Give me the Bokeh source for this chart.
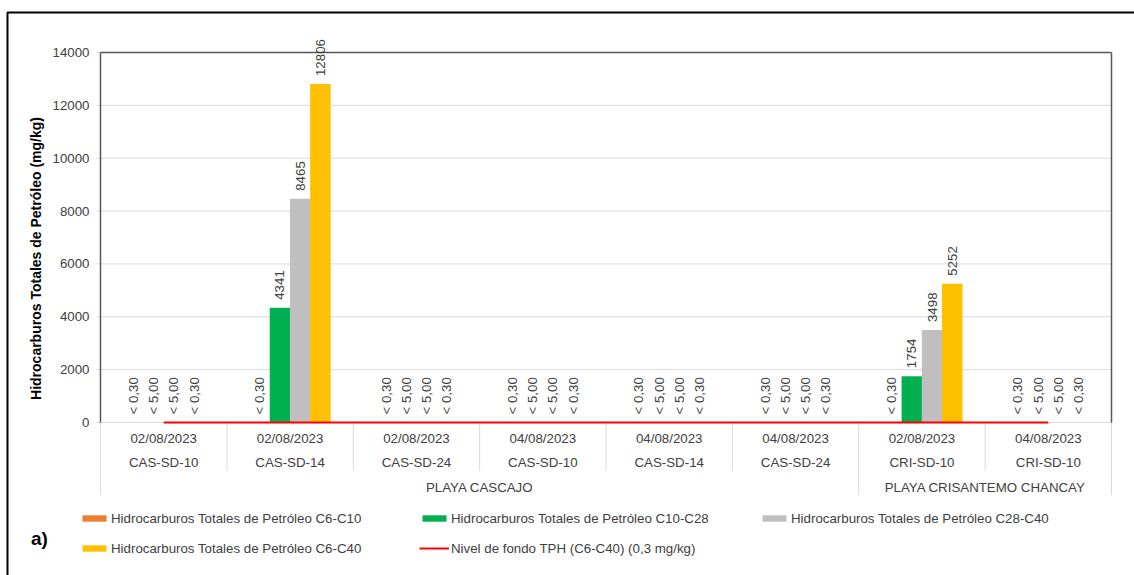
import math
from bokeh.plotting import figure
from bokeh.models import (ColumnDataSource, Range1d, Label, Legend, LegendItem, BoxAnnotation)
from bokeh.transform import dodge
from bokeh.core.properties import value
from bokeh.embed import file_html
from bokeh.resources import INLINE

# ---------------- data ----------------
beaches = ["PLAYA CASCAJO", "PLAYA CASCAJO", "PLAYA CASCAJO", "PLAYA CASCAJO",
           "PLAYA CASCAJO", "PLAYA CASCAJO", "PLAYA CRISANTEMO CHANCAY", "PLAYA CRISANTEMO CHANCAY"]
sites = ["CAS-SD-10", "CAS-SD-14", "CAS-SD-24", "CAS-SD-10", "CAS-SD-14", "CAS-SD-24",
         "CRI-SD-10", "CRI-SD-10"]
dates = ["02/08/2023", "02/08/2023", "02/08/2023", "04/08/2023", "04/08/2023", "04/08/2023",
         "02/08/2023", "04/08/2023"]

tph_c6_c10 = [0, 0, 0, 0, 0, 0, 0, 0]
tph_c10_c28 = [0, 4341, 0, 0, 0, 0, 1754, 0]
tph_c28_c40 = [0, 8465, 0, 0, 0, 0, 3498, 0]
tph_c6_c40 = [0, 12806, 0, 0, 0, 0, 5252, 0]

lbl_c6_c10 = ["< 0,30", "< 0,30", "< 0,30", "< 0,30", "< 0,30", "< 0,30", "< 0,30", "< 0,30"]
lbl_c10_c28 = ["< 5,00", "4341", "< 5,00", "< 5,00", "< 5,00", "< 5,00", "1754", "< 5,00"]
lbl_c28_c40 = ["< 5,00", "8465", "< 5,00", "< 5,00", "< 5,00", "< 5,00", "3498", "< 5,00"]
lbl_c6_c40 = ["< 0,30", "12806", "< 0,30", "< 0,30", "< 0,30", "< 0,30", "5252", "< 0,30"]

background_level = 0.3  # mg/kg
y_ticks = [0, 2000, 4000, 6000, 8000, 10000, 12000, 14000]
y_tick_labels = ["0", "2000", "4000", "6000", "8000", "10000", "12000", "14000"]

series_names = ["Hidrocarburos Totales de Petróleo C6-C10",
                "Hidrocarburos Totales de Petróleo C10-C28",
                "Hidrocarburos Totales de Petróleo C28-C40",
                "Hidrocarburos Totales de Petróleo C6-C40"]
series_colors = ["#ED7D31", "#00B050", "#BFBFBF", "#FFC000"]
line_name = "Nivel de fondo TPH (C6-C40) (0,3 mg/kg)"
y_title = "Hidrocarburos Totales de Petróleo (mg/kg)"
panel_tag = "a)"

# ---------------- layout constants (pixels) ----------------
W, H = 1134, 575
FONT = "Liberation Sans"
FS = "13.3px"
TXT = "#404040"
GRID = "#D9D9D9"
FRAME = "#595959"
X0_PX, GW_PX = 100, 126.375      # left edge of plot area, width of one group
Y0_PX, YTOP_PX = 422, 52         # pixel rows of 0 and of the top tick
Y_MAX = y_ticks[-1]
U = Y_MAX / (Y0_PX - YTOP_PX)    # data units per pixel
N = len(sites)

x_range = Range1d(-X0_PX / GW_PX, (W - X0_PX) / GW_PX)
y_range = Range1d(-(H - Y0_PX) * U, Y_MAX + YTOP_PX * U)

p = figure(width=W, height=H, x_range=x_range, y_range=y_range,
           x_axis_location=None, y_axis_location=None, toolbar_location=None,
           output_backend="svg", min_border=0, min_border_left=0, min_border_right=0,
           min_border_top=0, min_border_bottom=0)
p.outline_line_color = None
p.xgrid.visible = False
p.ygrid.visible = False
p.background_fill_color = "white"
p.border_fill_color = "white"

# gridlines (extending 4px left as tick marks)
p.segment(x0=[-4 / GW_PX] * len(y_ticks), x1=[N] * len(y_ticks), y0=y_ticks, y1=y_ticks,
          line_color=GRID, line_width=1)
# y tick labels
p.text(x=[0] * len(y_ticks), y=y_ticks, text=y_tick_labels, x_offset=-11,
       text_align="right", text_baseline="middle", text_font=value(FONT),
       text_font_size=FS, text_color=TXT)

# category separators
bounds = list(range(N + 1))
full = [i for i in bounds if i == 0 or i == N or beaches[i] != beaches[i - 1]]
short = [i for i in bounds if i not in full]
p.segment(x0=short, x1=short, y0=[0] * len(short), y1=[-48 * U] * len(short),
          line_color=GRID, line_width=1)
p.segment(x0=full, x1=full, y0=[0] * len(full), y1=[-72 * U] * len(full),
          line_color=GRID, line_width=1)

# plot-area frame lines (dark) on left, top, right
p.segment(x0=[0, 0, N], x1=[0, N, N], y0=[0, Y_MAX, 0], y1=[Y_MAX, Y_MAX, Y_MAX],
          line_color=FRAME, line_width=1.5)

xs = [i + 0.5 for i in range(N)]
src = ColumnDataSource(dict(x=xs, c6_c10=tph_c6_c10, c10_c28=tph_c10_c28,
                            c28_c40=tph_c28_c40, c6_c40=tph_c6_c40,
                            l_c6_c10=lbl_c6_c10, l_c10_c28=lbl_c10_c28,
                            l_c28_c40=lbl_c28_c40, l_c6_c40=lbl_c6_c40))

keys = ["c6_c10", "c10_c28", "c28_c40", "c6_c40"]
offsets = [-0.24, -0.08, 0.08, 0.24]
bar_renderers = []
for key, color, off in zip(keys, series_colors, offsets):
    r = p.vbar(x=dodge("x", off), top=key, width=0.162, source=src,
               fill_color=color, line_color=None)
    bar_renderers.append(r)

red = p.line(x=xs, y=[background_level] * N, line_color="#FF0000", line_width=2)

for key, off in zip(keys, offsets):
    p.text(x=dodge("x", off), y=key, text="l_" + key, source=src,
           angle=math.pi / 2, text_align="left", text_baseline="middle", y_offset=-8,
           text_font=value(FONT), text_font_size=FS, text_color=TXT)

# category labels
p.text(x=xs, y=[0] * N, text=dates, y_offset=16, text_align="center",
       text_baseline="middle", text_font=value(FONT), text_font_size=FS, text_color=TXT)
p.text(x=xs, y=[0] * N, text=sites, y_offset=40, text_align="center",
       text_baseline="middle", text_font=value(FONT), text_font_size=FS, text_color=TXT)
beach_names = list(dict.fromkeys(beaches))
beach_centers = []
for b in beach_names:
    idx = [i for i, v in enumerate(beaches) if v == b]
    beach_centers.append((idx[0] + idx[-1] + 1) / 2)
p.text(x=beach_centers, y=[0] * len(beach_names), text=beach_names, y_offset=65,
       text_align="center", text_baseline="middle", text_font=value(FONT),
       text_font_size=FS, text_color=TXT)

# y title
p.add_layout(Label(x=0, x_offset=-65, y=(Y0_PX - 258) * U, text=y_title,
                   angle=math.pi / 2, text_align="center", text_baseline="middle",
                   text_font=FONT, text_font_style="bold", text_font_size="14px",
                   text_color="black"))
# panel tag
p.add_layout(Label(x=0, x_offset=-61, y=(Y0_PX - 538) * U, text=panel_tag,
                   text_align="center", text_baseline="middle", text_font=FONT,
                   text_font_style="bold", text_font_size="19px", text_color="black"))

# legends (two rows, equal column pitch)
leg_common = dict(orientation="horizontal", glyph_width=30, glyph_height=8, label_width=307,
                  label_height=20, label_standoff=2, spacing=1, padding=0, margin=0,
                  border_line_color=None, background_fill_alpha=0, label_text_font=FONT,
                  label_text_font_size=FS, label_text_color=TXT)
leg1 = Legend(items=[LegendItem(label=series_names[i], renderers=[bar_renderers[i]]) for i in range(3)],
              location=(79, H - 528), **leg_common)
leg2 = Legend(items=[LegendItem(label=series_names[3], renderers=[bar_renderers[3]]),
                     LegendItem(label=line_name, renderers=[red])],
              location=(79, H - 558), **leg_common)
p.add_layout(leg1)
p.add_layout(leg2)

# outer border
p.add_layout(BoxAnnotation(left=7, right=3000, top=12, bottom=3000, left_units="canvas",
                           right_units="canvas", top_units="canvas", bottom_units="canvas",
                           fill_color=None, fill_alpha=0, line_color="black", line_alpha=1.0,
                           line_width=2))

open("out.html", "w").write(file_html(p, INLINE))
